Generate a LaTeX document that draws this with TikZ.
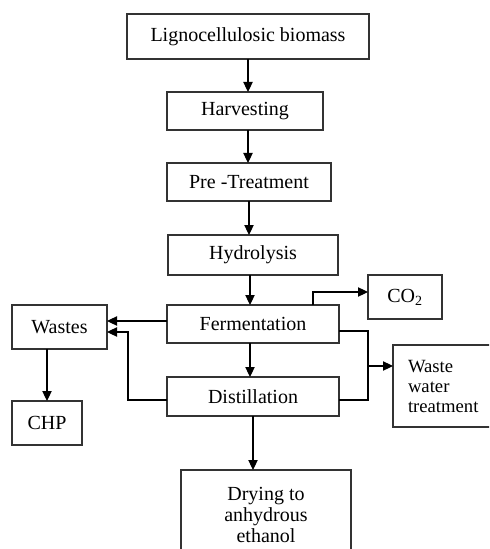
\documentclass[tikz,border=0pt]{standalone}
\usepackage{fontspec}
\setmainfont{Liberation Serif}
\usetikzlibrary{arrows.meta,calc}
\begin{document}
\begin{tikzpicture}[x=0.75pt,y=-0.75pt,
  box/.style={draw=black!80,line width=0.8pt,inner sep=0pt,outer sep=0pt,
    font=\fontsize{15}{18}\selectfont,align=center},
  arr/.style={draw=black,line width=0.8pt,-{Triangle[length=7.5pt,width=7pt]}},
  ln/.style={draw=black,line width=0.8pt}]
\useasboundingbox (0,0) rectangle (489,549);
\clip (0,0) rectangle (489,549);
\node[box,minimum width=181.5pt,minimum height=33.75pt] (ligno) at (248,36.5) {Lignocellulosic biomass};
\node[box,minimum width=117pt,minimum height=28.5pt] (harv) at (245,111) {Harvesting};
\node[box,minimum width=123pt,minimum height=28.5pt] (pre) at (249,182) {Pre -Treatment};
\node[box,minimum width=127.5pt,minimum height=30pt] (hydro) at (253,255) {Hydrolysis};
\node[box,minimum width=129pt,minimum height=28.5pt] (ferm) at (253,324) {Fermentation};
\node[box,minimum width=129pt,minimum height=29.25pt] (dist) at (253,396.5) {Distillation};
\node[box,minimum width=55.5pt,minimum height=33pt] (co2) at (405,297) {CO\textsubscript{2}};
\node[box,minimum width=71.25pt,minimum height=33pt] (wastes) at (59.5,327) {Wastes};
\node[box,minimum width=52.5pt,minimum height=33pt] (chp) at (47,423) {CHP};
\node[box,text width=65.25pt,inner xsep=11.25pt,minimum height=61.5pt,align=left,
  font=\fontsize{14}{15}\selectfont] (wwt) at (451.5,386) {Waste\\water\\treatment};
\node[box,minimum width=127.5pt,minimum height=67.5pt,
  font=\fontsize{15}{15.4}\selectfont] (dry) at (266,515) {Drying to\\anhydrous\\ethanol};
% main chain
\draw[arr] (ligno.south) -- (ligno.south |- harv.north);
\draw[arr] (harv.south -| ligno.south) -- (pre.north -| ligno.south);
\draw[arr] (pre.south) -- (pre.south |- hydro.north);
\draw[arr] ([xshift=-2.25pt]hydro.south) -- ([xshift=-2.25pt]hydro.south |- ferm.north);
\draw[arr] ([xshift=-2.25pt]ferm.south) -- ([xshift=-2.25pt]ferm.south |- dist.north);
\draw[arr] (dist.south) -- (dist.south |- dry.north);
% wastes
\coordinate (fw) at ([yshift=2.25pt]ferm.west);
\draw[arr] (fw) -- (fw -| wastes.east);
\coordinate (dw) at ([yshift=-2.6pt]dist.west);
\coordinate (dwc) at (128,332);
\draw[arr] (dw) -- (dw -| dwc) -- (dwc) -- (dwc -| wastes.east);
\draw[arr] (chp.north |- wastes.south) -- (chp.north);
% CO2
\coordinate (fc) at (313,292);
\draw[arr] (fc |- ferm.north) -- (fc) -- (fc -| co2.west);
% waste water
\coordinate (ft) at ([yshift=-5.25pt]ferm.east);
\coordinate (wc) at (368,366);
\draw[ln] (ft) -- (ft -| wc) -- (wc |- dw) -- (dw -| dist.east);
\draw[arr] (wc) -- (wc -| wwt.west);
\end{tikzpicture}
\end{document}
